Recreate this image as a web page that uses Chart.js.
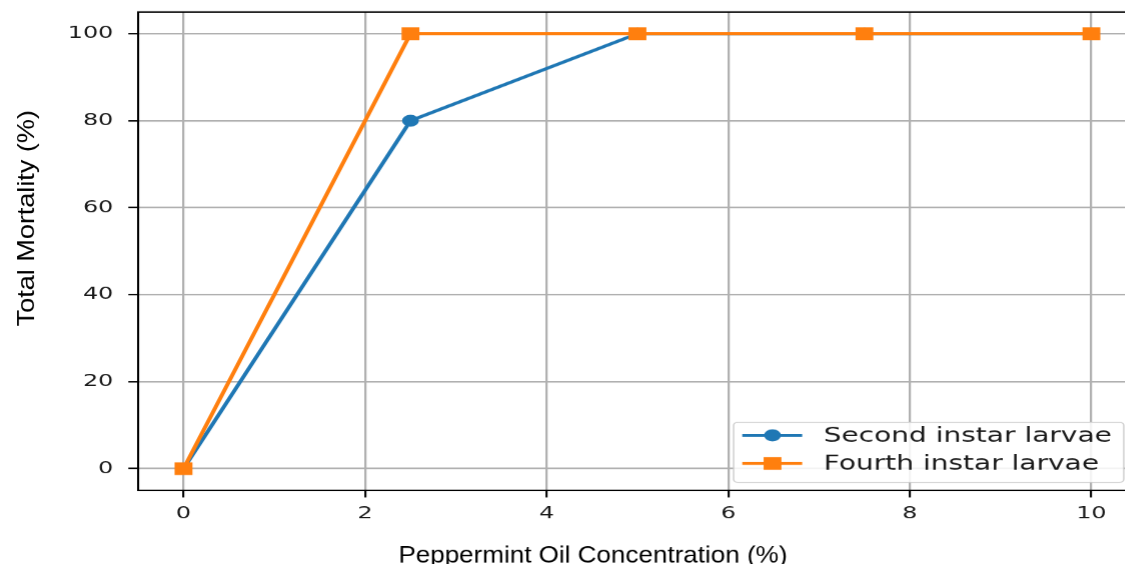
<!DOCTYPE html>
<html><head><meta charset="utf-8">
<script src="https://cdn.jsdelivr.net/npm/chart.js@4/dist/chart.umd.min.js"></script>
<style>
html,body{margin:0;padding:0;overflow:hidden;background:#fff;width:1125px;height:564px}
#c{position:absolute;left:0;top:0;transform:scaleX(1.4);transform-origin:0 0}
</style></head><body>
<canvas id="c" width="822" height="564"></canvas>
<script>
const SX = 1.4;
const concentrations = [0, 2.5, 5, 7.5, 10];
const secondInstar = [0, 80, 100, 100, 100];
const fourthInstar = [0, 100, 100, 100, 100];
const seriesLabels = ['Second instar larvae', 'Fourth instar larvae'];
const seriesColors = ['#1f77b4', '#ff7f0e'];
const seriesMarkers = ['circle', 'rect'];
const xTicks = [0, 2, 4, 6, 8, 10];
const yTicks = [0, 20, 40, 60, 80, 100];
const xTitle = 'Peppermint Oil Concentration (%)';
const yTitle = 'Total Mortality (%)';

const toPoints = (xs, ys) => xs.map((x, i) => ({x: x, y: ys[i]}));

const decor = {
  id: 'decor',
  beforeDatasetsDraw(chart) {
    const {ctx, chartArea: a} = chart;
    ctx.save();
    ctx.strokeStyle = '#000';
    ctx.lineWidth = 1.5;
    ctx.strokeRect(a.left, a.top, a.right - a.left, a.bottom - a.top);
    ctx.restore();
  },
  afterDraw(chart) {
    const ctx = chart.ctx;
    ctx.save();
    const bx = 523.6, by = 422, bw = 278.5, bh = 60, r = 3;
    ctx.beginPath();
    ctx.roundRect(bx, by, bw, bh, r);
    ctx.fillStyle = 'rgba(255,255,255,0.85)';
    ctx.fill();
    ctx.strokeStyle = '#cccccc';
    ctx.lineWidth = 1;
    ctx.stroke();
    const rows = [435, 463];
    chart.data.datasets.forEach((ds, i) => {
      const y = rows[i];
      ctx.strokeStyle = ds.borderColor;
      ctx.lineWidth = 3;
      ctx.beginPath();
      ctx.moveTo(529.8, y); ctx.lineTo(572.6, y);
      ctx.stroke();
      ctx.fillStyle = ds.borderColor;
      Chart.helpers.drawPoint(ctx, {pointStyle: ds.pointStyle, radius: ds.pointRadius, rotation: 0, borderWidth: 0}, 551.4, y);
      ctx.fillStyle = '#1a1a1a';
      ctx.font = '20px "DejaVu Sans"';
      ctx.textAlign = 'left';
      ctx.textBaseline = 'middle';
      ctx.fillText(ds.label, 587.9, y + 1);
    });
    ctx.restore();
    ctx.save();
    ctx.translate(592.5 / SX, 562);
    ctx.scale(1 / SX, 0.92);
    ctx.font = '26px "Liberation Sans"';
    ctx.fillStyle = '#000';
    ctx.textAlign = 'center';
    ctx.textBaseline = 'alphabetic';
    ctx.fillText(xTitle, 0, 0);
    ctx.restore();
    ctx.save();
    ctx.translate(34 / SX, 218);
    ctx.scale(0.9 / SX, 1);
    ctx.rotate(-Math.PI / 2);
    ctx.font = '27px "Liberation Sans"';
    ctx.fillStyle = '#000';
    ctx.textAlign = 'center';
    ctx.textBaseline = 'alphabetic';
    ctx.fillText(yTitle, 0, 0);
    ctx.restore();
  }
};

new Chart(document.getElementById('c'), {
  type: 'line',
  data: {
    datasets: [
      {label: seriesLabels[0], data: toPoints(concentrations, secondInstar), borderColor: seriesColors[0], backgroundColor: seriesColors[0],
       pointStyle: seriesMarkers[0], pointRadius: 6, pointBorderWidth: 0, borderWidth: 3, order: 1, tension: 0},
      {label: seriesLabels[1], data: toPoints(concentrations, fourthInstar), borderColor: seriesColors[1], backgroundColor: seriesColors[1],
       pointStyle: seriesMarkers[1], pointRadius: 9, pointBorderWidth: 0, borderWidth: 3, order: 0, tension: 0}
    ]
  },
  options: {
    responsive: false,
    animation: false,
    devicePixelRatio: 1.4,
    layout: {padding: {left: 0, top: 12, right: 10.6, bottom: 0}},
    plugins: {legend: {display: false}, tooltip: {enabled: false}},
    scales: {
      x: {
        type: 'linear', min: -0.5, max: 10.5,
        afterBuildTicks: s => { s.ticks = xTicks.map(v => ({value: v})); },
        afterFit: s => { s.height = 74; s.paddingLeft = 0; s.paddingRight = 0; },
        grid: {color: '#b0b0b0', lineWidth: 1.6, tickColor: '#000', tickWidth: 1.5, tickLength: 7},
        border: {display: false},
        ticks: {font: {family: 'DejaVu Sans', size: 17}, color: '#1a1a1a', padding: 6, maxRotation: 0}
      },
      y: {
        type: 'linear', min: -5, max: 105,
        afterBuildTicks: s => { s.ticks = yTicks.map(v => ({value: v})); },
        afterFit: s => { s.width = 98.6; s.paddingTop = 0; s.paddingBottom = 0; },
        grid: {color: '#b0b0b0', lineWidth: 1.6, tickColor: '#000', tickWidth: 1.5, tickLength: 7},
        border: {display: false},
        ticks: {font: {family: 'DejaVu Sans', size: 17}, color: '#1a1a1a', padding: 10.7}
      }
    }
  },
  plugins: [decor]
});
</script>
</body></html>
